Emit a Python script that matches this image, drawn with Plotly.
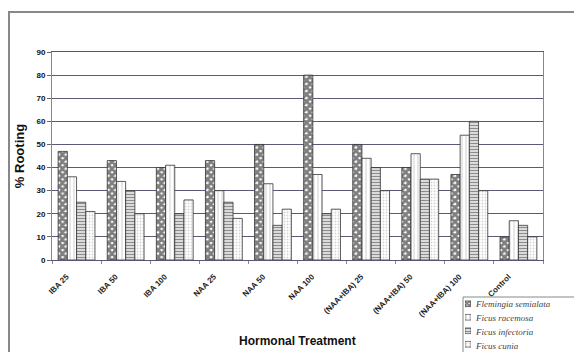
import plotly.graph_objects as go

treatments = ["IBA 25", "IBA 50", "IBA 100", "NAA 25", "NAA 50", "NAA 100",
              "(NAA+IBA) 25", "(NAA+IBA) 50", "(NAA+IBA) 100", "Control"]
species = ["Flemingia semialata", "Ficus racemosa", "Ficus infectoria", "Ficus cunia"]
flemingia = [47, 43, 40, 43, 50, 80, 50, 40, 37, 10]
racemosa = [36, 34, 41, 30, 33, 37, 44, 46, 54, 17]
infectoria = [25, 30, 20, 25, 15, 20, 40, 35, 60, 15]
cunia = [21, 20, 26, 18, 22, 22, 30, 35, 30, 10]
y_ticks = [0, 10, 20, 30, 40, 50, 60, 70, 80, 90]

series = [flemingia, racemosa, infectoria, cunia]
patterns = [
    dict(shape="x", fgcolor="#000000", bgcolor="#ffffff", size=5, solidity=0.8),
    dict(shape="|", fgcolor="#888888", bgcolor="#ffffff", size=4, solidity=0.2),
    dict(shape="-", fgcolor="#1a1a1a", bgcolor="#ffffff", size=3, solidity=0.55),
    dict(shape=".", fgcolor="#aaaaaa", bgcolor="#ffffff", size=3, solidity=0.3),
]

W, H = 574, 352


def fx(x):
    """pixel column -> paper fraction"""
    return x / W


def fy(y):
    """pixel row (from top) -> paper fraction"""
    return (H - y) / H


fig = go.Figure()
for name, vals, pat in zip(species, series, patterns):
    fig.add_trace(go.Bar(
        x=treatments, y=vals, name=name, showlegend=False,
        marker=dict(color="#ffffff", pattern=pat,
                    line=dict(color="#333333", width=0.8)),
    ))

# legend swatches: one small patterned bar per species on a helper axis
for name, pat in zip(species, patterns):
    fig.add_trace(go.Bar(
        x=[1], y=[name], orientation="h", xaxis="x2", yaxis="y2",
        width=0.42, showlegend=False, hoverinfo="skip",
        marker=dict(color="#ffffff", pattern=dict(pat, size=3),
                    line=dict(color="#333333", width=0.6)),
    ))

legend_top, row_h = 297, 14
legend_rows = [legend_top + row_h * (i + 0.5) for i in range(len(species))]

annotations = [
    dict(text="<b>Hormonal Treatment</b>", xref="paper", yref="paper",
         x=fx(297.5), y=fy(341), xanchor="center", yanchor="middle",
         showarrow=False, font=dict(size=12, color="#111111")),
]
for name, ry in zip(species, legend_rows):
    annotations.append(dict(
        text=name, xref="paper", yref="paper", x=fx(473), y=fy(ry),
        xanchor="left", yanchor="middle", showarrow=False,
        font=dict(family="Liberation Serif, serif", size=9, color="#444444",
                  style="italic"),
    ))

fig.update_layout(
    width=W, height=H,
    margin=dict(l=0, r=0, t=0, b=0, autoexpand=False),
    paper_bgcolor="white", plot_bgcolor="white",
    barmode="group", bargap=0.25, bargroupgap=0.0,
    font=dict(family="Arial, Liberation Sans, sans-serif", color="#111111"),
    showlegend=False,
    xaxis=dict(
        domain=[fx(52), fx(543)],
        tickangle=-45, tickson="boundaries",
        ticktext=[f"<b>{t}</b>" for t in treatments], tickvals=treatments,
        tickfont=dict(size=8, color="#222222"),
        ticklabelshift=-10, ticklabelstandoff=8,
        showline=True, linecolor="#555577", linewidth=1, mirror=True,
        ticks="outside", ticklen=3, tickcolor="#888888",
    ),
    yaxis=dict(
        domain=[fy(260), fy(52)],
        range=[0, 90], tickvals=y_ticks, ticktext=[f"<b>{v}</b>" for v in y_ticks],
        tickfont=dict(size=8), ticks="outside", ticklen=4, tickcolor="#666666",
        showgrid=True, gridcolor="#5a5a78", gridwidth=1,
        showline=True, linecolor="#888888", linewidth=1, mirror=True,
        zeroline=False,
        title=dict(text="<b>% Rooting</b>", font=dict(size=13), standoff=8),
    ),
    xaxis2=dict(domain=[fx(465), fx(471)], range=[0, 1], anchor="y2",
                visible=False, fixedrange=True),
    yaxis2=dict(domain=[0, fy(legend_top)], anchor="x2", visible=False,
                range=[len(species) - 0.5 + (legend_top + row_h * 4 - H) / row_h, -0.5],
                type="category", categoryorder="array", categoryarray=species,
                fixedrange=True),
    annotations=annotations,
    shapes=[
        dict(type="rect", xref="paper", yref="paper",
             x0=fx(9), x1=fx(600), y0=fy(400), y1=fy(12),
             line=dict(color="#888888", width=2), layer="below"),
        dict(type="rect", xref="paper", yref="paper",
             x0=fx(463), x1=fx(580), y0=fy(360), y1=fy(legend_top),
             line=dict(color="#888888", width=1), fillcolor="white", layer="below"),
    ],
)

fig.write_html("out.html")
